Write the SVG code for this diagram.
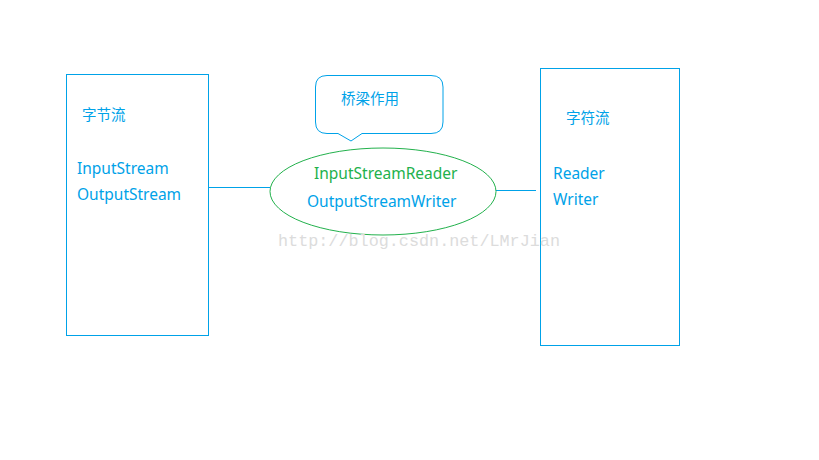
<svg xmlns="http://www.w3.org/2000/svg" width="819" height="460" viewBox="0 0 819 460">
<style>
.box{fill:#fff;stroke:#00a2e8;stroke-width:1}
.t{font-family:"Noto Sans","Noto Sans CJK SC",sans-serif;font-size:15.5px;fill:#00a2e8}
.cn{font-family:"Noto Sans CJK SC",sans-serif;font-size:14.5px;fill:#00a2e8}
.g{fill:#22b14c}
.conn{stroke:#00a2e8;stroke-width:1;fill:none}
.wm{font-family:"Liberation Mono",monospace;font-size:16.8px;fill:#dcdcdc}
</style>
<rect width="819" height="460" fill="#fff"/>
<g id="connectors">
<line class="conn" x1="208" y1="187.5" x2="270" y2="187.5"/>
<line class="conn" x1="496" y1="190.5" x2="536" y2="190.5"/>
</g>
<g id="byte-stream">
<rect class="box" x="66.5" y="74.5" width="142" height="261"/>
<text class="cn" x="82" y="120">字节流</text>
<text class="t" x="77" y="174">InputStream</text>
<text class="t" x="77" y="200">OutputStream</text>
</g>
<g id="char-stream">
<rect class="box" x="540.5" y="68.5" width="139" height="277"/>
<text class="cn" x="566" y="123">字符流</text>
<text class="t" x="553" y="179">Reader</text>
<text class="t" x="553" y="205">Writer</text>
</g>
<g id="bridge-callout">
<path class="box" d="M327,75.5 H431 Q443,75.5 443,87 V122 Q443,133.5 431,133.5 H362 L351,141 L338,133.5 H327 Q315.5,133.5 315.5,122 V87 Q315.5,75.5 327,75.5 Z"/>
<text class="cn" x="341" y="104">桥梁作用</text>
</g>
<g id="converters">
<ellipse cx="383" cy="191.5" rx="113" ry="43.5" fill="#fff" stroke="#22b14c" stroke-width="1"/>
<text class="t g" x="314" y="179">InputStreamReader</text>
<text class="t" x="307" y="207">OutputStreamWriter</text>
</g>
<text class="wm" x="278" y="246">http://blog.csdn.net/LMrJian</text>
</svg>
